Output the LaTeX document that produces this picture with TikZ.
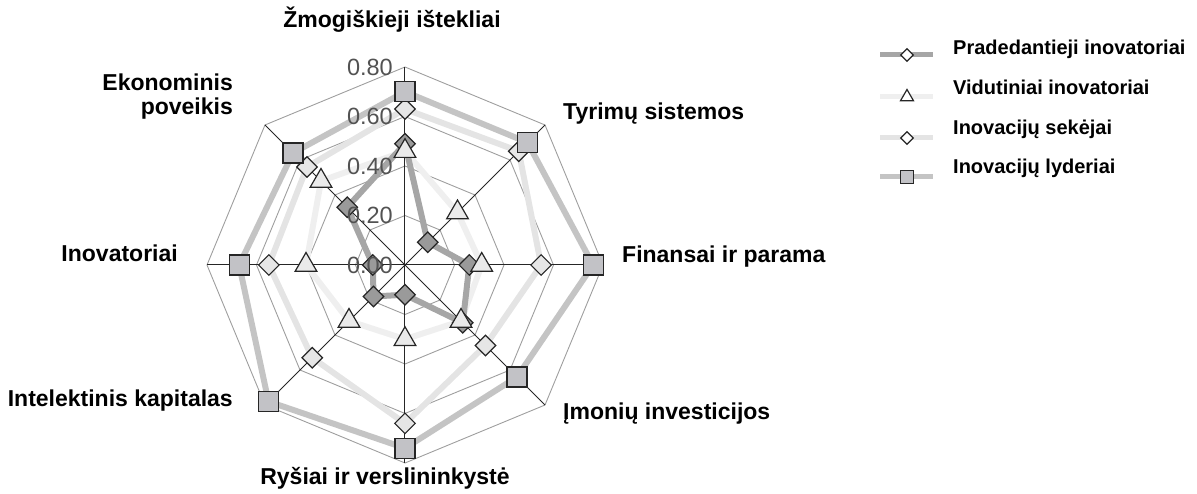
\documentclass[tikz,border=0pt]{standalone}
\usepackage{fontspec}
\setmainfont{Liberation Sans}
\usetikzlibrary{shapes.geometric}
\definecolor{sqfill}{HTML}{C2C2C6}
\definecolor{dkfill}{HTML}{9A9A9A}
\definecolor{ltfill}{HTML}{E6E6E6}
\definecolor{trfill}{HTML}{EAEAEA}
\definecolor{pradline}{HTML}{A6A6A6}
\definecolor{vidline}{HTML}{EFEFEF}
\definecolor{sekline}{HTML}{E4E4E4}
\definecolor{lydline}{HTML}{C4C4C4}
\def\rs{247.5}
\tikzset{
  lab/.style={font=\fontsize{23}{25}\selectfont\bfseries, inner sep=0},
  legtext/.style={font=\fontsize{20}{24}\selectfont\bfseries, anchor=base west, inner sep=0},
  ticklab/.style={font=\fontsize{23.5}{26}\selectfont, text=black!68, anchor=east, inner sep=0},
  gridline/.style={draw=black!38, line width=0.9pt},
  spoke/.style={draw=black!85, line width=1pt},
  serline/.style={line width=6pt, line join=round},
  sq/.style={rectangle, draw=black!85, fill=sqfill, line width=1.2pt, minimum size=20pt, inner sep=0},
  dkdia/.style={diamond, draw=black!85, fill=dkfill, line width=1.2pt, minimum width=21pt, minimum height=21pt, inner sep=0},
  ltdia/.style={diamond, draw=black!85, fill=ltfill, line width=1.2pt, minimum width=21pt, minimum height=21pt, inner sep=0},
  tri/.style={regular polygon, regular polygon sides=3, draw=black!85, fill=trfill, line width=1.2pt, minimum size=25pt, inner sep=0},
}
\begin{document}
\begin{tikzpicture}[x=1pt, y=1pt]
  \useasboundingbox (-405,-229) rectangle (792,265);

  % grid
  \foreach \g in {0.2,0.4,0.6,0.8}
    \draw[gridline] (90:{\g*\rs}) -- (45:{\g*\rs}) -- (0:{\g*\rs}) -- (-45:{\g*\rs}) -- (-90:{\g*\rs}) -- (-135:{\g*\rs}) -- (180:{\g*\rs}) -- (135:{\g*\rs}) -- cycle;

  % series lines
  \draw[serline, lydline] (90:{0.70*\rs}) -- (45:{0.70*\rs}) -- (0:{0.76*\rs}) -- (-45:{0.64*\rs}) -- (-90:{0.74*\rs}) -- (-135:{0.78*\rs}) -- (180:{0.67*\rs}) -- (135:{0.64*\rs}) -- cycle;
  \draw[serline, sekline] (90:{0.63*\rs}) -- (45:{0.65*\rs}) -- (0:{0.55*\rs}) -- (-45:{0.46*\rs}) -- (-90:{0.64*\rs}) -- (-135:{0.53*\rs}) -- (180:{0.55*\rs}) -- (135:{0.56*\rs}) -- cycle;
  \draw[serline, vidline] (90:{0.46*\rs}) -- (45:{0.30*\rs}) -- (0:{0.31*\rs}) -- (-45:{0.32*\rs}) -- (-90:{0.30*\rs}) -- (-135:{0.32*\rs}) -- (180:{0.40*\rs}) -- (135:{0.48*\rs}) -- cycle;
  \draw[serline, pradline] (90:{0.49*\rs}) -- (45:{0.13*\rs}) -- (0:{0.26*\rs}) -- (-45:{0.33*\rs}) -- (-90:{0.12*\rs}) -- (-135:{0.18*\rs}) -- (180:{0.13*\rs}) -- (135:{0.33*\rs}) -- cycle;

  % spokes
  \draw[spoke] (90:{0.8*\rs}) -- (-90:{0.8*\rs});
  \draw[spoke] (0:{0.8*\rs}) -- (180:{0.8*\rs});
  \draw[spoke] (45:{0.8*\rs}) -- (-135:{0.8*\rs});
  \draw[spoke] (135:{0.8*\rs}) -- (-45:{0.8*\rs});

  % markers
  \foreach \v [count=\i from 0] in {0.49,0.13,0.26,0.33,0.12,0.18,0.13,0.33}
    \node[dkdia] (prad\i) at ({90-45*\i}:{\v*\rs}) {};
  \foreach \v [count=\i from 0] in {0.46,0.30,0.31,0.32,0.30,0.32,0.40,0.48}
    \node[tri] (vid\i) at ({90-45*\i}:{\v*\rs}) {};
  \foreach \v [count=\i from 0] in {0.63,0.65,0.55,0.46,0.64,0.53,0.55,0.56}
    \node[ltdia] (sek\i) at ({90-45*\i}:{\v*\rs}) {};
  \foreach \v [count=\i from 0] in {0.70,0.70,0.76,0.64,0.74,0.78,0.67,0.64}
    \node[sq] (lyd\i) at ({90-45*\i}:{\v*\rs}) {};

  % scale
  \node[ticklab] (t0) at (-12,0) {0.00};
  \node[ticklab] (t1) at (-12,49.5) {0.20};
  \node[ticklab] (t2) at (-12,99) {0.40};
  \node[ticklab] (t3) at (-12,148.5) {0.60};
  \node[ticklab] (t4) at (-12,198) {0.80};

  % axis labels
  \node[lab, anchor=base] (zmog) at (-13,237) {Žmogiškieji ištekliai};
  \node[lab, anchor=base west] (tyr) at (158,145) {Tyrimų sistemos};
  \node[lab, anchor=base west] (fin) at (217,2) {Finansai ir parama};
  \node[lab, anchor=base west] (imon) at (158,-155) {Įmonių investicijos};
  \node[lab, anchor=base] (rys) at (-20,-220) {Ryšiai ir verslininkystė};
  \node[lab, anchor=base east] (intel) at (-172,-142) {Intelektinis kapitalas};
  \node[lab, anchor=base east] (inov) at (-227,3) {Inovatoriai};
  \node[lab, anchor=base east] (ekon1) at (-172,174) {Ekonominis};
  \node[lab, anchor=base east] (ekon2) at (-172,150) {poveikis};

  % legend
  \draw[line width=5pt, pradline] (475,210) -- (528,210);
  \node[dkdia, minimum width=13pt, minimum height=13pt, fill=white] (lg1) at (502,210) {};
  \node[legtext] at (548,210) {Pradedantieji inovatoriai};
  \draw[line width=5pt, vidline] (475,168) -- (528,168);
  \node[tri, minimum size=15pt, fill=white] (lg2) at (502,168) {};
  \node[legtext] at (548,170) {Vidutiniai inovatoriai};
  \draw[line width=5pt, sekline] (475,127) -- (528,127);
  \node[ltdia, minimum width=13pt, minimum height=13pt, fill=white] (lg3) at (502,127) {};
  \node[legtext] at (548,130) {Inovacijų sekėjai};
  \draw[line width=5pt, lydline] (475,88) -- (528,88);
  \node[sq, minimum size=13pt] (lg4) at (502,88) {};
  \node[legtext] at (548,91) {Inovacijų lyderiai};
\end{tikzpicture}
\end{document}
